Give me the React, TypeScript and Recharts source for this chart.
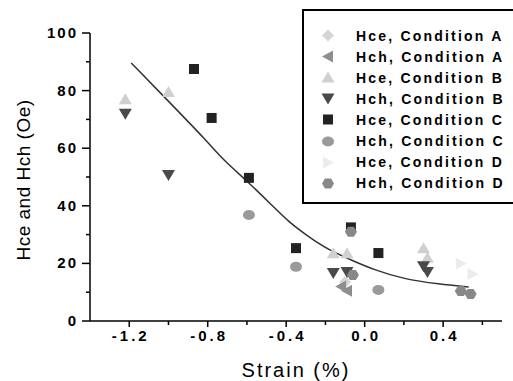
import React from "react";
import { ComposedChart, Scatter, Line, XAxis, YAxis } from "recharts";

// readings (strain %, field Oe)
const hceA = [{ x: -0.1, y: 13.5 }];
const hchA = [
  { x: -0.12, y: 12 },
  { x: -0.09, y: 10.5 },
];
const hceB = [
  { x: -1.22, y: 77 },
  { x: -1.0, y: 79.5 },
  { x: -0.16, y: 23.5 },
  { x: -0.09, y: 23.5 },
  { x: 0.3, y: 25.3 },
  { x: 0.32, y: 22 },
];
const hchB = [
  { x: -1.22, y: 72 },
  { x: -1.0, y: 50.7 },
  { x: -0.16, y: 16.7 },
  { x: -0.09, y: 17 },
  { x: 0.3, y: 19 },
  { x: 0.32, y: 17 },
];
const hceC = [
  { x: -0.87, y: 87.5 },
  { x: -0.78, y: 70.5 },
  { x: -0.59, y: 49.7 },
  { x: -0.35, y: 25.3 },
  { x: -0.07, y: 32.5 },
  { x: 0.07, y: 23.6 },
];
const hchC = [
  { x: -0.59, y: 36.8 },
  { x: -0.35, y: 18.8 },
  { x: 0.07, y: 10.8 },
];
const hceD = [
  { x: 0.49, y: 20 },
  { x: 0.55, y: 16.3 },
];
const hchD = [
  { x: -0.07, y: 31 },
  { x: -0.06, y: 16 },
  { x: 0.49, y: 10.4 },
  { x: 0.54, y: 9.4 },
];

// fitted curve
const fitCurve = [
  { x: -1.19, y: 89.6 },
  { x: -1.0, y: 76.3 },
  { x: -0.8, y: 62.2 },
  { x: -0.73, y: 56.5 },
  { x: -0.593, y: 48.2 },
  { x: -0.474, y: 40.3 },
  { x: -0.389, y: 34.5 },
  { x: -0.287, y: 29.3 },
  { x: -0.185, y: 24.7 },
  { x: -0.049, y: 20.6 },
  { x: 0.04, y: 18.0 },
  { x: 0.2, y: 14.5 },
  { x: 0.38, y: 12.8 },
  { x: 0.53, y: 11.8 },
];

const xTicks = [-1.2, -1.0, -0.8, -0.6, -0.4, -0.2, 0, 0.2, 0.4, 0.6];
const xLabeled = [-1.2, -0.8, -0.4, 0, 0.4];
const yTicks = [0, 10, 20, 30, 40, 50, 60, 70, 80, 90, 100];
const yLabeled = [0, 20, 40, 60, 80, 100];

const FONT = "'Liberation Sans', Arial, sans-serif";

type Kind = "diamond" | "left" | "up" | "down" | "square" | "circle" | "right" | "hex";

const series: { name: string; data: { x: number; y: number }[]; kind: Kind; color: string }[] = [
  { name: "Hce, Condition A", data: hceA, kind: "diamond", color: "#d6d6d6" },
  { name: "Hch, Condition A", data: hchA, kind: "left", color: "#8e8e8e" },
  { name: "Hce, Condition B", data: hceB, kind: "up", color: "#d0d0d0" },
  { name: "Hch, Condition B", data: hchB, kind: "down", color: "#4a4a4a" },
  { name: "Hce, Condition C", data: hceC, kind: "square", color: "#222222" },
  { name: "Hch, Condition C", data: hchC, kind: "circle", color: "#9a9a9a" },
  { name: "Hce, Condition D", data: hceD, kind: "right", color: "#ececec" },
  { name: "Hch, Condition D", data: hchD, kind: "hex", color: "#888888" },
];

function marker(kind: Kind, color: string, cx: number, cy: number) {
  const pts = (arr: number[][]) => arr.map((p) => `${cx + p[0]},${cy + p[1]}`).join(" ");
  switch (kind) {
    case "diamond":
      return <polygon points={pts([[0, -6], [6, 0], [0, 6], [-6, 0]])} fill={color} />;
    case "left":
      return <polygon points={pts([[-6, 0], [5, -6], [5, 6]])} fill={color} />;
    case "right":
      return <polygon points={pts([[6, 0], [-5, -6], [-5, 6]])} fill={color} />;
    case "up":
      return <polygon points={pts([[0, -6], [6.5, 5], [-6.5, 5]])} fill={color} />;
    case "down":
      return <polygon points={pts([[-6.5, -5], [6.5, -5], [0, 6]])} fill={color} />;
    case "square":
      return <rect x={cx - 5} y={cy - 5} width={10} height={10} fill={color} />;
    case "circle":
      return <ellipse cx={cx} cy={cy} rx={6} ry={5} fill={color} />;
    case "hex":
      return <polygon points={pts([[-6, 0], [-3, -5], [3, -5], [6, 0], [3, 5], [-3, 5]])} fill={color} />;
  }
}

const XTick = (props: any) => {
  const { x, y, payload } = props;
  const v = payload.value;
  const major = xLabeled.some((t) => Math.abs(t - v) < 1e-6);
  return (
    <g>
      <line x1={x} y1={y} x2={x} y2={y + (major ? 6 : 4)} stroke="#000" strokeWidth={1.5} />
      {major && (
        <text x={x + 1.5} y={y + 20} textAnchor="middle" fontSize={15} fontWeight="bold" letterSpacing={3} fill="#000" fontFamily={FONT}>
          {v.toFixed(1)}
        </text>
      )}
    </g>
  );
};

const YTick = (props: any) => {
  const { x, y, payload } = props;
  const v = payload.value;
  const major = yLabeled.includes(v);
  return (
    <g>
      <line x1={x} y1={y} x2={x - (major ? 8 : 4)} y2={y} stroke="#000" strokeWidth={1.5} />
      {major && (
        <text x={x - 12} y={y + 5} textAnchor="end" fontSize={15} fontWeight="bold" letterSpacing={2} fill="#000" fontFamily={FONT}>
          {v}
        </text>
      )}
    </g>
  );
};

export default function App() {
  return (
    <div style={{ position: "absolute", left: 0, top: 0, width: 513, height: 381, overflow: "hidden", background: "#fff", fontFamily: FONT }}>
      <ComposedChart width={513} height={381} margin={{ top: 33, right: 11, bottom: 0, left: 0 }}>
        <XAxis
          type="number"
          dataKey="x"
          domain={[-1.4, 0.7]}
          ticks={xTicks}
          interval={0}
          height={60}
          tickSize={0}
          tickMargin={0}
          tick={<XTick />}
          axisLine={{ stroke: "#000", strokeWidth: 1.5 }}
          label={{
            content: () => (
              <text x={296} y={377} textAnchor="middle" fontSize={20} letterSpacing={2} fill="#000" fontFamily={FONT}>
                Strain (%)
              </text>
            ),
          }}
        />
        <YAxis
          type="number"
          dataKey="y"
          domain={[0, 100]}
          ticks={yTicks}
          interval={0}
          width={90}
          tickSize={0}
          tickMargin={0}
          tick={<YTick />}
          axisLine={{ stroke: "#000", strokeWidth: 1.5 }}
          label={{
            content: () => (
              <text x={30} y={180} transform="rotate(-90 30 180)" textAnchor="middle" fontSize={19} letterSpacing={0.5} fill="#000" fontFamily={FONT}>
                Hce and Hch (Oe)
              </text>
            ),
          }}
        />
        <Line data={fitCurve} dataKey="y" type="basis" stroke="#333" strokeWidth={1.5} dot={false} isAnimationActive={false} />
        {series.map((s) => (
          <Scatter
            key={s.name}
            name={s.name}
            data={s.data}
            dataKey="y"
            fill={s.color}
            isAnimationActive={false}
            shape={(p: any) => marker(s.kind, s.color, p.cx, p.cy)}
          />
        ))}
      </ComposedChart>
      <div
        style={{
          position: "absolute",
          left: 302,
          top: 9,
          width: 220,
          height: 191,
          border: "2px solid #000",
          boxSizing: "content-box",
        }}
      >
        {series.map((s, i) => (
          <div key={s.name} style={{ position: "absolute", left: 0, top: 14 + i * 21.1, height: 21, display: "flex", alignItems: "center" }}>
            <svg width={50} height={21} style={{ display: "block" }}>
              {marker(s.kind, s.color, 24, 10.5)}
            </svg>
            <span style={{ fontSize: 14, fontWeight: "bold", letterSpacing: 2.2, color: "#000", whiteSpace: "nowrap", marginLeft: 2 }}>
              {s.name}
            </span>
          </div>
        ))}
      </div>
    </div>
  );
}
